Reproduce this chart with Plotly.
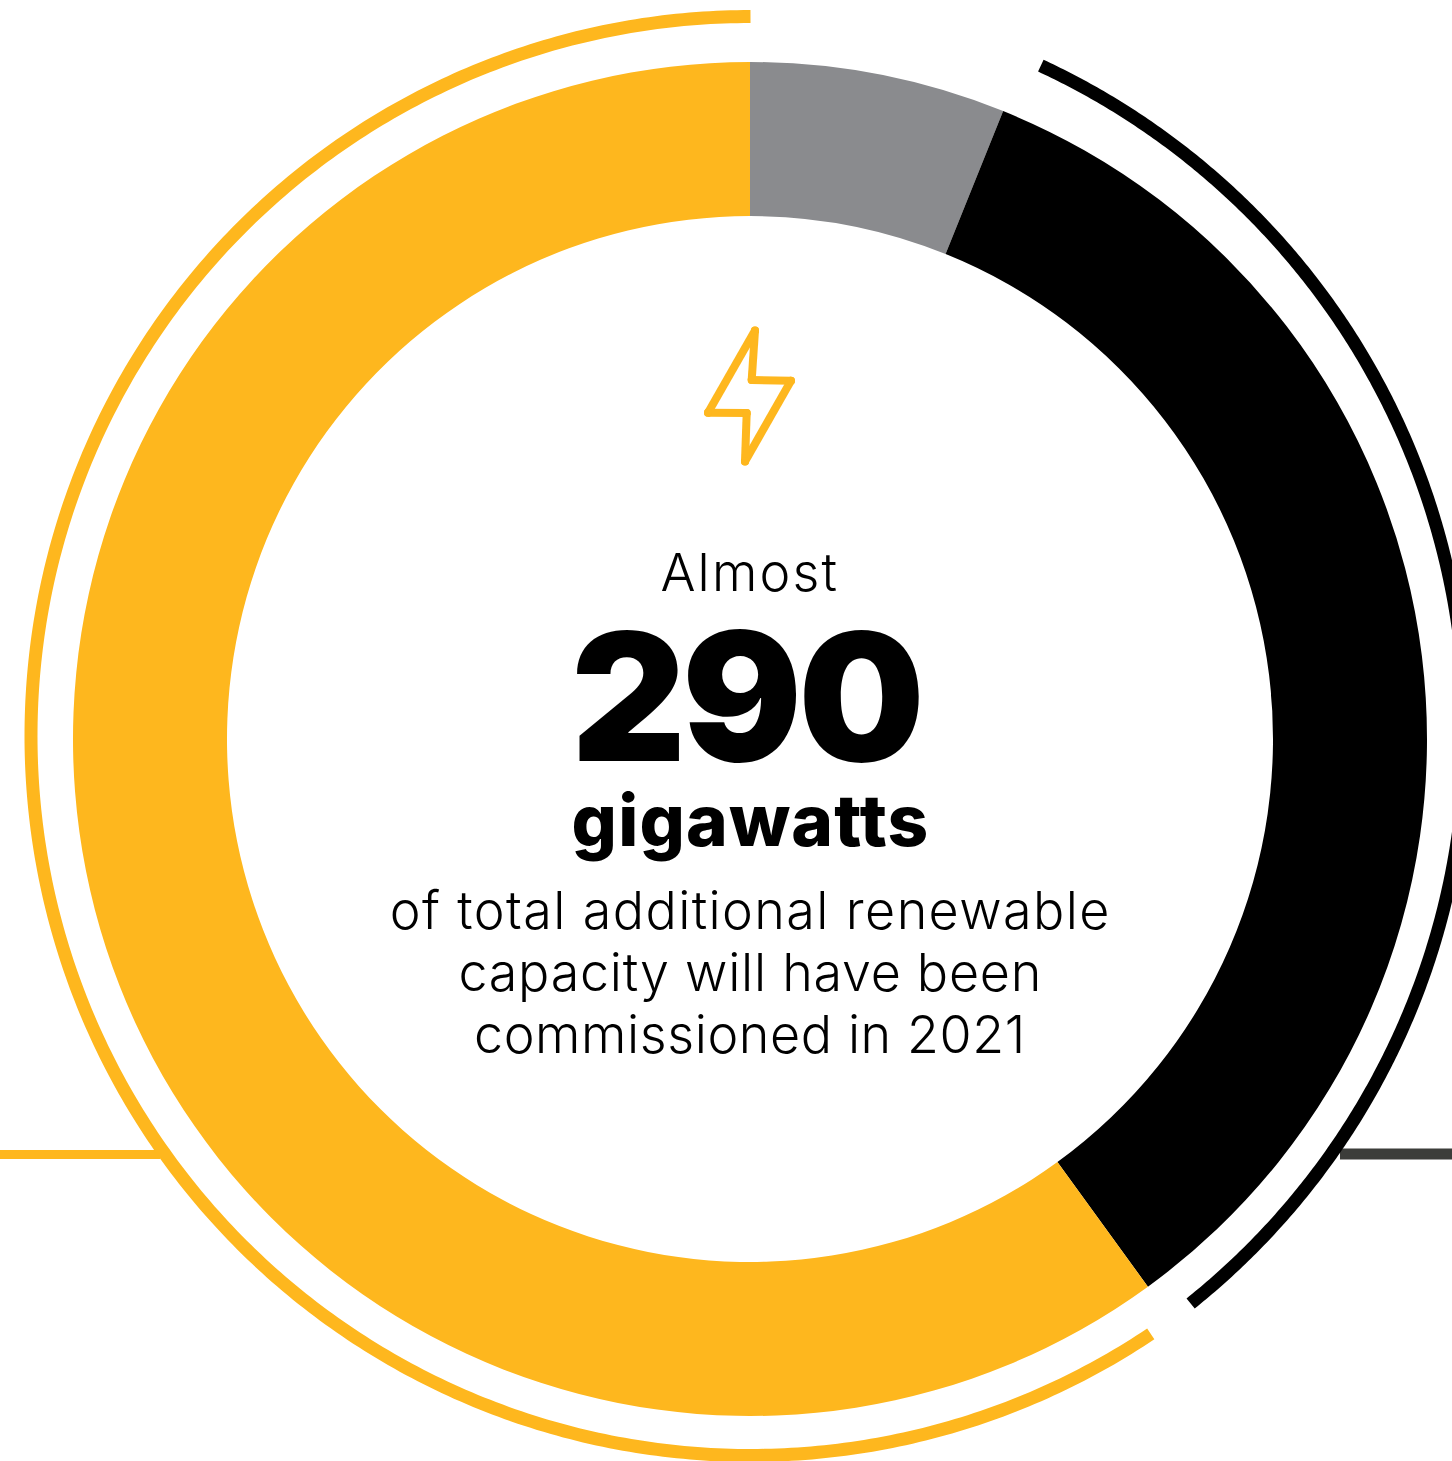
import json
import numpy as np
import plotly.graph_objects as go

W, H = 1452, 1461
YELLOW, GREY, BLACK, DARK = "#FEB71E", "#8A8B8E", "#000000", "#3C3D3A"

# Donut data (share of the circle, clockwise from 12 o'clock)
slice_names = ["Other", "Black segment", "Yellow segment"]
slice_values = [6.1, 33.9, 60.0]

# Outer bracket arcs (degrees clockwise from 12 o'clock)
yellow_arc_span = [146.2, 360.0]
black_arc_span = [24.9, 141.3]

# Texts
text_almost = "Almost"
text_number = "290"
text_unit = "gigawatts"
text_body = ["of total additional renewable", "capacity will have been", "commissioned in 2021"]

# Lightning icon outline (each side is a separate run so that the joins come out round)
bolt_x = [755, 751.7, None, 751.7, 791, None, 791, 745, None, 745, 746.7, None, 746.7, 708, None, 708, 755]
bolt_y = [330.5, 380, None, 380, 380.7, None, 380.7, 461.5, None, 461.5, 413, None, 413, 412.7, None, 412.7, 330.5]


def arc(span, cx, cy, r):
    t = np.radians(np.linspace(span[0], span[1], 400))
    return cx + r * np.sin(t), cy - r * np.cos(t)


fig = go.Figure()
fig.add_trace(go.Pie(
    labels=slice_names, values=slice_values, sort=False, direction="clockwise", rotation=0,
    hole=523 / 677, textinfo="none", hoverinfo="label+percent",
    marker=dict(colors=[GREY, BLACK, YELLOW], line=dict(width=0)),
    domain=dict(x=[73 / W, 1427 / W], y=[45 / H, 1399 / H]), showlegend=False,
))

# Connector rules
fig.add_trace(go.Scatter(x=[0, 160], y=[1154.5, 1154.5], mode="lines", line=dict(color=YELLOW, width=9), hoverinfo="skip"))
fig.add_trace(go.Scatter(x=[1340, 1452], y=[1154, 1154], mode="lines", line=dict(color=DARK, width=11), hoverinfo="skip"))

# Bracket arcs
ax, ay = arc(yellow_arc_span, 750.5, 736, 719.5)
fig.add_trace(go.Scatter(x=ax, y=ay, mode="lines", line=dict(color=YELLOW, width=13, simplify=False), hoverinfo="skip"))
bx, by = arc(black_arc_span, 732, 731, 733.5)
fig.add_trace(go.Scatter(x=bx, y=by, mode="lines", line=dict(color=BLACK, width=13, simplify=False), hoverinfo="skip"))

# Icon
fig.add_trace(go.Scatter(x=bolt_x, y=bolt_y, mode="lines+markers", connectgaps=False,
                         line=dict(color=YELLOW, width=8, simplify=False),
                         marker=dict(color=YELLOW, size=8), hoverinfo="skip"))

spacing = []


def label(text, x, y, size, weight, track):
    fig.add_annotation(x=x, y=y, xref="x", yref="y", text=text, showarrow=False, xanchor="center",
                       yanchor="middle", font=dict(family="Inter", size=size, color="#000", weight=weight))
    spacing.append(track)


label(text_almost, 750, 572, 52, 300, 2.2)
label(text_number, 746, 696, 178, 900, -4)
label(text_unit, 750, 820, 71, 800, 1.2)
for line, yy, tr in zip(text_body, [910, 972, 1034], [1.4, 0.74, 0.6]):
    label(line, 750, yy, 52, 300, tr)

fig.update_layout(
    width=W, height=H, margin=dict(l=0, r=0, t=0, b=0), showlegend=False,
    paper_bgcolor="white", plot_bgcolor="white",
    xaxis=dict(range=[0, W], visible=False, fixedrange=True),
    yaxis=dict(range=[H, 0], visible=False, fixedrange=True),
)
post = ("document.body.style.margin='0';document.body.style.overflow='hidden';"
        "var s=" + json.dumps(spacing) + ";"
        "document.querySelectorAll('.annotation-text').forEach(function(t,i){t.style.letterSpacing=s[i]+'px';});")
fig.write_html("out.html", config=dict(displayModeBar=False), post_script=post)
